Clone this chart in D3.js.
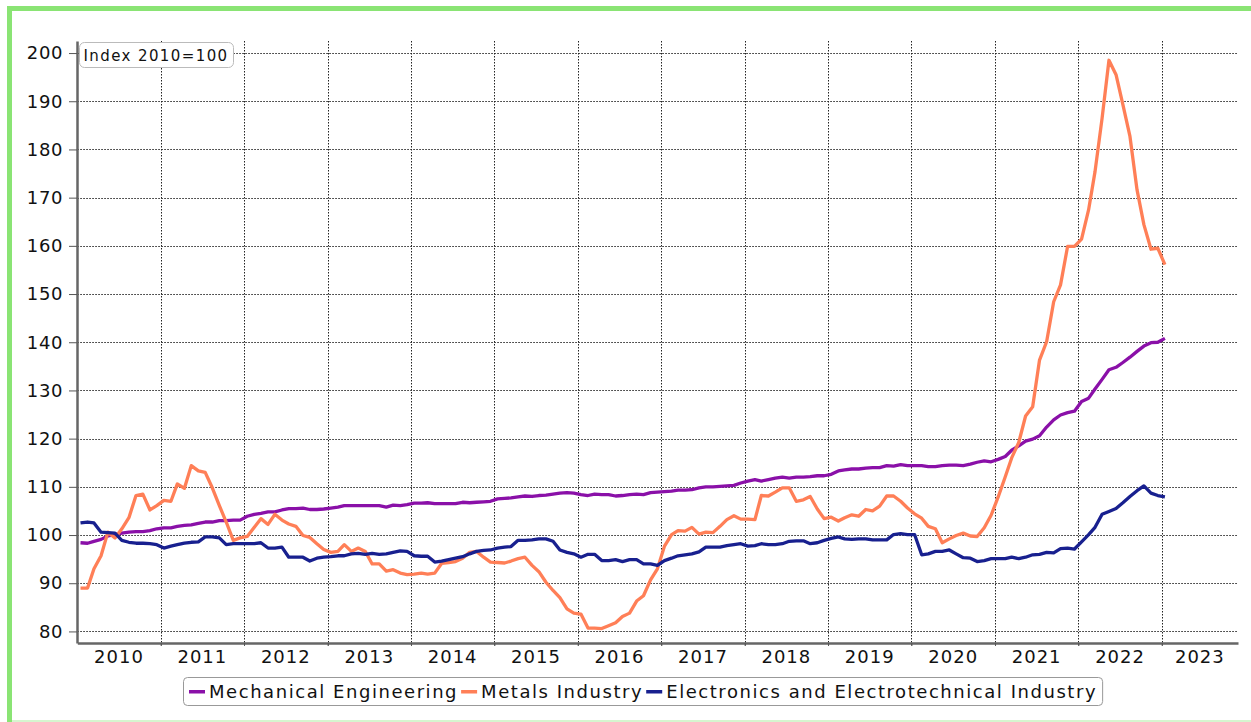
<!DOCTYPE html>
<html>
<head>
<meta charset="utf-8">
<script src="https://cdn.jsdelivr.net/npm/d3@7"></script>
<style>
body { margin: 0; background: #fff; }
svg { display: block; font-family: "DejaVu Sans", Verdana, sans-serif; }
</style>
</head>
<body>
<div id="chart"></div>
<script>
// monthly index values, Jan 2010 .. Jan 2023 (2010 = 100)
const seriesNames = ["Mechanical Engineering", "Metals Industry", "Electronics and Electrotechnical Industry"];
const seriesColors = ["#8a10a8", "#ff7f57", "#18208f"];

const mechanical = [
  98.4, 98.3, 98.7, 99.1, 99.8, 100.1, 100.4, 100.6, 100.7, 100.7, 100.9, 101.3,
  101.5, 101.5, 101.8, 102.0, 102.1, 102.4, 102.7, 102.7, 103.0, 103.0, 103.1, 103.1,
  103.9, 104.3, 104.5, 104.8, 104.8, 105.2, 105.5, 105.5, 105.6, 105.3, 105.3, 105.4,
  105.6, 105.8, 106.1, 106.1, 106.1, 106.1, 106.1, 106.1, 105.8, 106.2, 106.1, 106.3,
  106.6, 106.6, 106.7, 106.5, 106.5, 106.5, 106.5, 106.8, 106.7, 106.8, 106.9, 107.0,
  107.5, 107.6, 107.7, 107.9, 108.1, 108.0, 108.2, 108.3, 108.5, 108.7, 108.8, 108.7,
  108.4, 108.2, 108.5, 108.4, 108.4, 108.1, 108.2, 108.4, 108.5, 108.4, 108.8, 108.9,
  109.0, 109.1, 109.3, 109.3, 109.4, 109.8, 110.0, 110.0, 110.1, 110.2, 110.3, 110.8,
  111.2, 111.5, 111.2, 111.5, 111.8, 112.0, 111.8, 112.0, 112.0, 112.1, 112.3, 112.3,
  112.6, 113.3, 113.5, 113.7, 113.7, 113.9, 114.0, 114.0, 114.4, 114.3, 114.6, 114.4,
  114.4, 114.4, 114.2, 114.2, 114.4, 114.5, 114.5, 114.4, 114.7, 115.1, 115.4, 115.2,
  115.7, 116.3, 117.6, 118.5, 119.5, 119.9, 120.6, 122.4, 123.9, 124.9, 125.4, 125.7,
  127.7, 128.4, 130.3, 132.3, 134.3, 134.8, 135.8, 136.9, 138.1, 139.2, 139.9, 140.0,
  140.8
];

const metals = [
  89.0, 89.0, 93.0, 95.7, 100.6, 99.4, 101.3, 103.6, 108.2, 108.5, 105.2, 106.1,
  107.2, 107.0, 110.6, 109.7, 114.4, 113.3, 113.0, 109.8, 106.1, 102.7, 98.9, 99.4,
  99.7, 101.6, 103.4, 102.2, 104.3, 103.1, 102.3, 101.8, 99.9, 99.5, 98.2, 97.0,
  96.4, 96.6, 98.0, 96.6, 97.3, 96.6, 94.0, 94.0, 92.5, 92.8, 92.1, 91.8,
  91.9, 92.1, 91.9, 92.1, 94.1, 94.3, 94.5, 95.2, 96.4, 96.6, 95.4, 94.4,
  94.3, 94.2, 94.6, 95.1, 95.4, 93.7, 92.4, 90.2, 88.5, 87.0, 84.7, 83.8,
  83.6, 80.7, 80.7, 80.6, 81.2, 81.8, 83.1, 83.8, 86.3, 87.4, 90.7, 93.0,
  97.7, 100.1, 100.9, 100.8, 101.6, 100.2, 100.6, 100.5, 101.8, 103.2, 104.0, 103.3,
  103.3, 103.2, 108.2, 108.1, 108.9, 109.8, 109.8, 107.0, 107.3, 108.0, 105.4, 103.4,
  103.7, 102.9, 103.6, 104.2, 103.9, 105.3, 105.0, 106.0, 108.1, 108.1, 107.0, 105.6,
  104.4, 103.5, 101.8, 101.3, 98.4, 99.2, 99.9, 100.4, 99.8, 99.7, 101.5, 104.1,
  107.9, 112.1, 116.0, 119.2, 124.7, 126.6, 136.3, 140.1, 148.4, 151.9, 159.9, 159.9,
  161.4, 167.5, 175.4, 186.5, 198.5, 195.5, 189.3, 182.7, 171.6, 164.4, 159.3, 159.5,
  156.1
];

const electronics = [
  102.5, 102.7, 102.5, 100.6, 100.5, 100.4, 98.9, 98.5, 98.3, 98.3, 98.2, 98.0,
  97.3, 97.7, 98.0, 98.3, 98.5, 98.6, 99.6, 99.6, 99.4, 98.0, 98.2, 98.2,
  98.2, 98.2, 98.4, 97.3, 97.3, 97.5, 95.4, 95.4, 95.4, 94.6, 95.2, 95.4,
  95.5, 95.7, 95.7, 96.1, 96.2, 96.0, 96.2, 96.0, 96.1, 96.4, 96.7, 96.6,
  95.7, 95.6, 95.6, 94.4, 94.6, 94.9, 95.2, 95.5, 96.1, 96.6, 96.8, 96.9,
  97.3, 97.5, 97.6, 98.9, 98.9, 99.0, 99.2, 99.2, 98.7, 96.9, 96.4, 96.1,
  95.4, 96.0, 96.0, 94.7, 94.7, 94.9, 94.5, 94.9, 94.9, 94.0, 94.0, 93.7,
  94.7, 95.2, 95.7, 95.9, 96.1, 96.5, 97.5, 97.5, 97.5, 97.8, 98.0, 98.2,
  97.7, 97.8, 98.2, 98.0, 98.0, 98.2, 98.7, 98.8, 98.8, 98.2, 98.4, 98.9,
  99.3, 99.6, 99.2, 99.1, 99.2, 99.2, 99.0, 99.0, 99.0, 100.1, 100.3, 100.1,
  100.1, 95.9, 96.1, 96.6, 96.6, 96.9, 96.1, 95.3, 95.2, 94.5, 94.7, 95.1,
  95.1, 95.1, 95.4, 95.1, 95.4, 95.9, 96.0, 96.4, 96.3, 97.2, 97.3, 97.1,
  98.6, 100.1, 101.6, 104.3, 104.9, 105.5, 106.7, 108.0, 109.2, 110.2, 108.7, 108.2,
  107.9
];

const yTicks = [80, 90, 100, 110, 120, 130, 140, 150, 160, 170, 180, 190, 200];
const years = [2010, 2011, 2012, 2013, 2014, 2015, 2016, 2017, 2018, 2019, 2020, 2021, 2022, 2023];
const indexLabel = "Index 2010=100";

const W = 1251, H = 722;

const svg = d3.select("#chart").append("svg")
    .attr("width", W)
    .attr("height", H);

// green frame (left + top thick, bottom faint)
svg.append("rect").attr("x", 7).attr("y", 6).attr("width", W - 7).attr("height", 5).attr("fill", "#8ae474");
svg.append("rect").attr("x", 7).attr("y", 6).attr("width", 5).attr("height", H - 6).attr("fill", "#8ae474");
svg.append("rect").attr("x", 12).attr("y", 720).attr("width", W - 12).attr("height", 2).attr("fill", "#d6f5cf");

const x = d3.scaleTime()
    .domain([new Date(2010, 0, 1), new Date(2023, 11, 1)])
    .range([77.3, 1238]);

const y = d3.scaleLinear()
    .domain([77.6, 202.5])
    .range([643, 41]);

const dates = mechanical.map((_, i) => new Date(2010, i, 15));
const yearStarts = years.map(yr => new Date(yr, 0, 1));

// grid
const grid = svg.append("g").attr("class", "grid");
grid.selectAll(".hgrid")
    .data(yTicks)
    .enter()
    .append("line")
    .attr("x1", x.range()[0])
    .attr("x2", x.range()[1])
    .attr("y1", d => Math.round(y(d)) + 0.5)
    .attr("y2", d => Math.round(y(d)) + 0.5)
    .attr("stroke", "#222")
    .attr("stroke-width", 1)
    .attr("stroke-dasharray", "1.5,1.5");

grid.selectAll(".vgrid")
    .data(yearStarts.slice(1))
    .enter()
    .append("line")
    .attr("x1", d => Math.round(x(d)) + 0.5)
    .attr("x2", d => Math.round(x(d)) + 0.5)
    .attr("y1", 41)
    .attr("y2", 646)
    .attr("stroke", "#222")
    .attr("stroke-width", 1)
    .attr("stroke-dasharray", "1.5,1.5");

// y axis
const yAxis = svg.append("g")
    .attr("transform", "translate(77,0)")
    .call(d3.axisLeft(y).tickValues(yTicks).tickSize(8).tickSizeOuter(0).tickPadding(6));
yAxis.select(".domain").attr("stroke", "#666").attr("stroke-width", 2.5);
yAxis.selectAll(".tick line").attr("stroke", "#555");
yAxis.selectAll(".tick text")
    .attr("fill", "#111")
    .style("font-size", "18px")
    .style("letter-spacing", "0.6px")
    .style("font-family", "'DejaVu Sans', Verdana, sans-serif");

// x axis
const xAxis = svg.append("g")
    .attr("transform", "translate(0,643)")
    .call(d3.axisBottom(x).tickValues(yearStarts.slice(1)).tickSize(3).tickSizeOuter(0).tickFormat(""));
xAxis.select(".domain").attr("stroke", "#666").attr("stroke-width", 2.5);
xAxis.selectAll(".tick line").attr("stroke", "#555");

const xEnd = x.domain()[1];
svg.selectAll(".year-label")
    .data(years)
    .enter()
    .append("text")
    .attr("class", "year-label")
    .attr("x", yr => {
        const a = x(new Date(yr, 0, 1));
        const b = x(d3.min([new Date(yr + 1, 0, 1), xEnd]));
        return (a + b) / 2;
    })
    .attr("y", 663)
    .attr("text-anchor", "middle")
    .style("font-size", "18px")
    .style("letter-spacing", "1px")
    .attr("fill", "#111")
    .text(yr => yr);

// lines
const series = [mechanical, metals, electronics];
const line = d3.line()
    .x((d, i) => x(dates[i]))
    .y(d => y(d));

svg.selectAll(".series")
    .data(series)
    .enter()
    .append("path")
    .attr("class", "series")
    .attr("d", d => line(d))
    .attr("fill", "none")
    .attr("stroke", (d, i) => seriesColors[i])
    .attr("stroke-width", 3.3)
    .attr("stroke-linejoin", "round");

// index label box
const idx = svg.append("g");
idx.append("rect")
    .attr("x", 79.5).attr("y", 42.5)
    .attr("width", 154).attr("height", 25)
    .attr("rx", 5)
    .attr("fill", "#fff")
    .attr("stroke", "#bbb");
idx.append("text")
    .attr("x", 83.5).attr("y", 60.5)
    .style("font-size", "15px")
    .style("letter-spacing", "1.4px")
    .attr("fill", "#111")
    .text(indexLabel);

// legend
const legend = svg.append("g");
const legendBox = legend.append("rect")
    .attr("x", 183.5).attr("y", 677.5)
    .attr("height", 28)
    .attr("rx", 4)
    .attr("fill", "#fff")
    .attr("stroke", "#999");

let lx = 189;
seriesNames.forEach((name, i) => {
    legend.append("rect")
        .attr("x", lx).attr("y", 690)
        .attr("width", 16).attr("height", 3.5)
        .attr("fill", seriesColors[i]);
    const t = legend.append("text")
        .attr("x", lx + 20).attr("y", 698)
        .style("font-size", "18px")
        .style("letter-spacing", "1.55px")
        .attr("fill", "#111")
        .text(name);
    lx += 20 + t.node().getComputedTextLength() + 3;
});
legendBox.attr("width", lx - 183 + 2);
</script>
</body>
</html>
